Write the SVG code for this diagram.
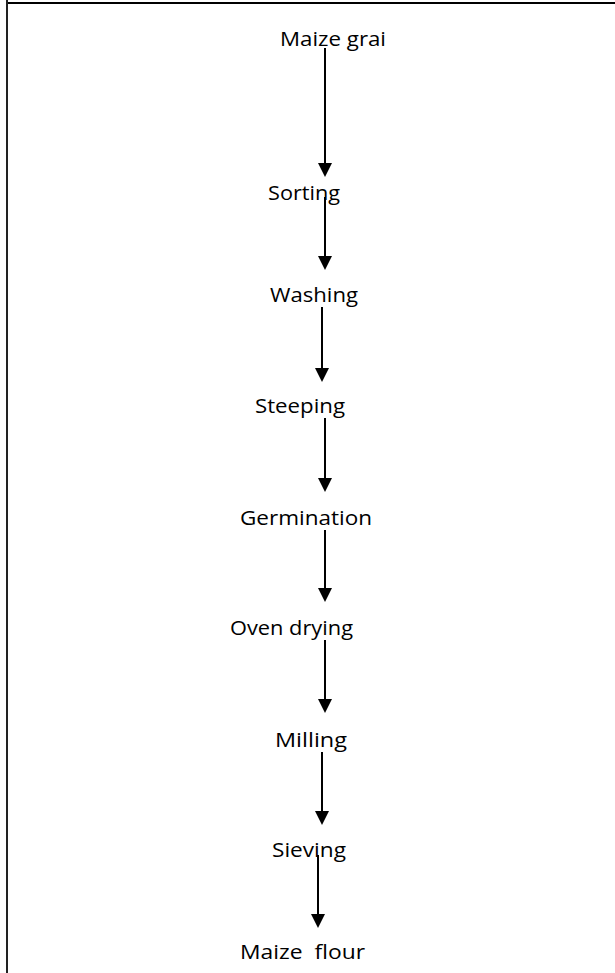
<svg xmlns="http://www.w3.org/2000/svg" width="615" height="973" viewBox="0 0 615 973">
<style>
.lbl{font-family:"Open Sans","Liberation Sans",sans-serif;font-size:20px;fill:#000;}
.conn{stroke:#000;stroke-width:2;fill:none;}
</style>
<defs>
<marker id="ah" markerUnits="userSpaceOnUse" markerWidth="14" markerHeight="14" refX="0" refY="7" orient="auto">
<path d="M0,0 L14,7 L0,14 z" fill="#000"/>
</marker>
</defs>
<rect width="615" height="973" fill="#fff"/>
<g id="frame">
<line x1="7" y1="3" x2="615" y2="3" stroke="#000" stroke-width="2"/>
<line x1="7" y1="0" x2="7" y2="973" stroke="#222" stroke-width="2"/>
</g>
<g id="connectors">
<line class="conn" x1="325" y1="48" x2="325" y2="163" marker-end="url(#ah)"/>
<line class="conn" x1="325" y1="197" x2="325" y2="256" marker-end="url(#ah)"/>
<line class="conn" x1="322" y1="307" x2="322" y2="368" marker-end="url(#ah)"/>
<line class="conn" x1="325" y1="418" x2="325" y2="478" marker-end="url(#ah)"/>
<line class="conn" x1="325" y1="530" x2="325" y2="588" marker-end="url(#ah)"/>
<line class="conn" x1="325" y1="640" x2="325" y2="699" marker-end="url(#ah)"/>
<line class="conn" x1="322" y1="752" x2="322" y2="811" marker-end="url(#ah)"/>
<line class="conn" x1="318" y1="855" x2="318" y2="914" marker-end="url(#ah)"/>
</g>
<g id="n1"><text class="lbl" x="280" y="46" textLength="106" lengthAdjust="spacingAndGlyphs">Maize grai</text></g>
<g id="n2"><text class="lbl" x="268" y="200" textLength="72" lengthAdjust="spacingAndGlyphs">Sorting</text></g>
<g id="n3"><text class="lbl" x="270" y="302" textLength="88" lengthAdjust="spacingAndGlyphs">Washing</text></g>
<g id="n4"><text class="lbl" x="255" y="413" textLength="90" lengthAdjust="spacingAndGlyphs">Steeping</text></g>
<g id="n5"><text class="lbl" x="240" y="525" textLength="132" lengthAdjust="spacingAndGlyphs">Germination</text></g>
<g id="n6"><text class="lbl" x="230" y="635" textLength="123" lengthAdjust="spacingAndGlyphs">Oven drying</text></g>
<g id="n7"><text class="lbl" x="275" y="747" textLength="72" lengthAdjust="spacingAndGlyphs">Milling</text></g>
<g id="n8"><text class="lbl" x="272" y="857" textLength="74" lengthAdjust="spacingAndGlyphs">Sieving</text></g>
<g id="n9"><text class="lbl" x="240" y="959" textLength="125" lengthAdjust="spacingAndGlyphs" xml:space="preserve">Maize  flour</text></g>
</svg>
